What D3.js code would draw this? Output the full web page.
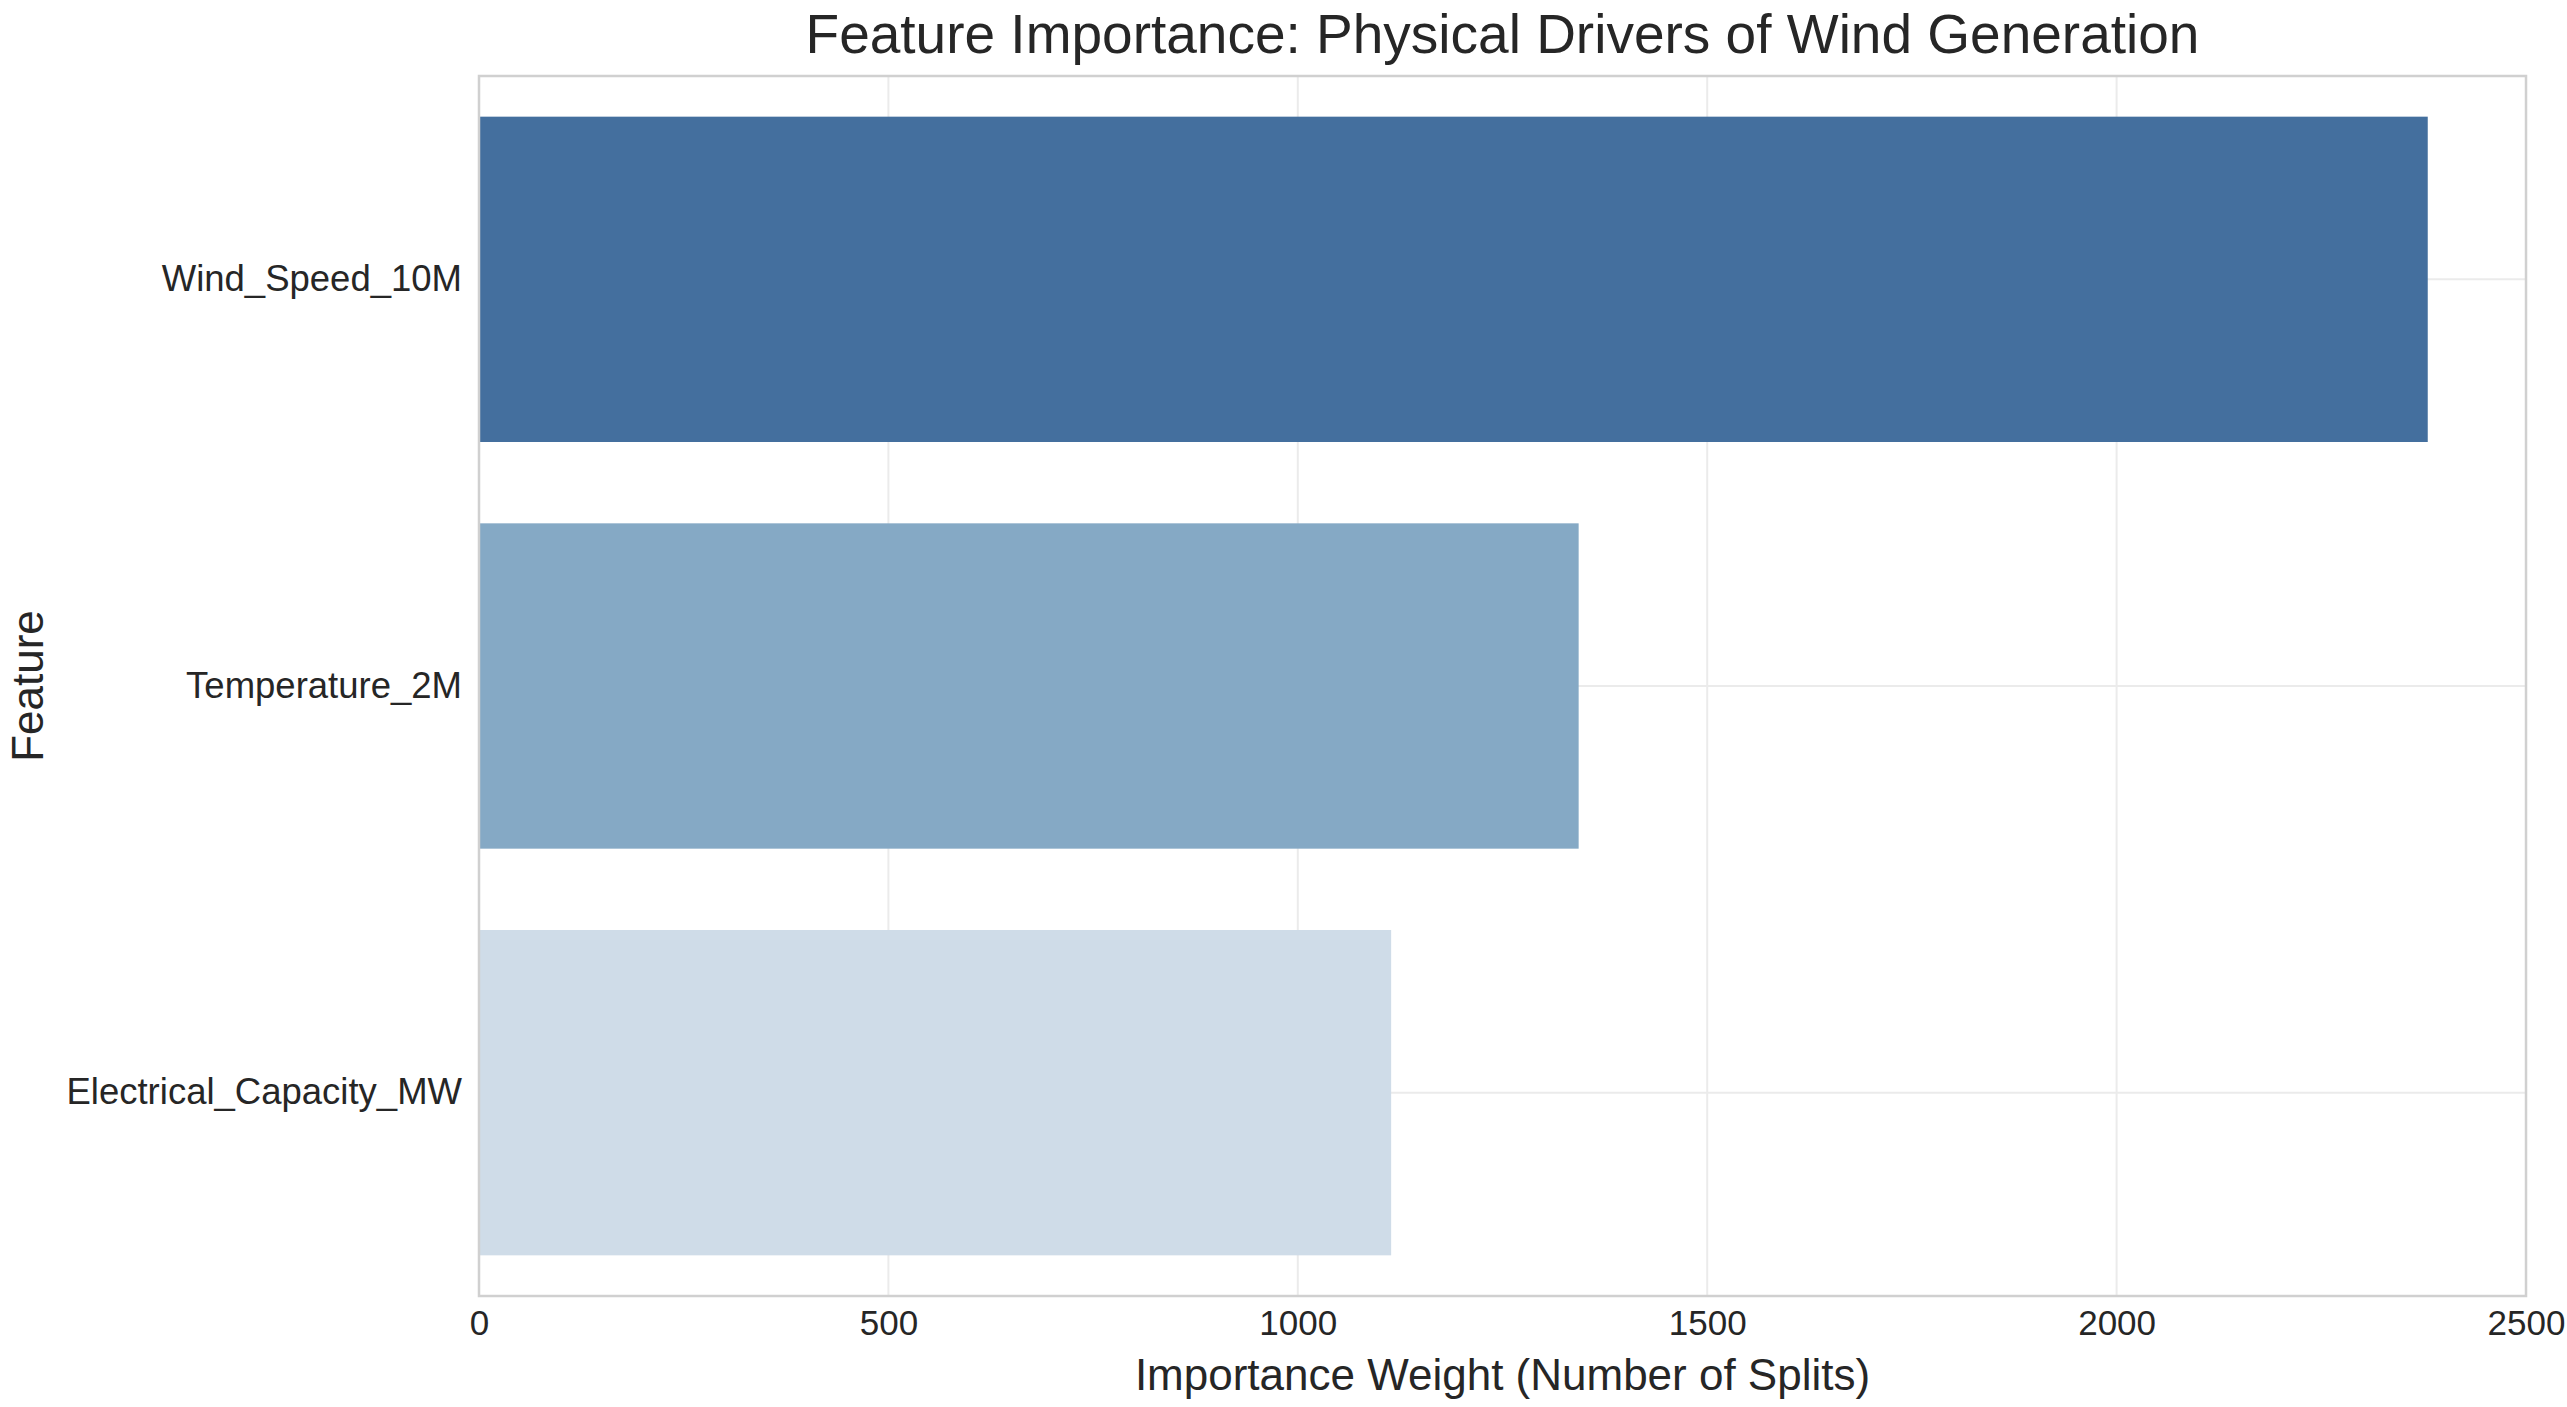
<!DOCTYPE html>
<html>
<head>
<meta charset="utf-8">
<script src="https://cdn.jsdelivr.net/npm/d3@7"></script>
<style>
  html, body { margin: 0; padding: 0; background: #ffffff; }
  svg { display: block; font-family: "Liberation Sans", Arial, sans-serif; }
</style>
</head>
<body>
<svg id="chart" width="2567" height="1407"></svg>
<script>
const features = ["Wind_Speed_10M", "Temperature_2M", "Electrical_Capacity_MW"];
const importance = [2380, 1343, 1114];
const barColors = ["#446f9e", "#85a9c5", "#cfdce8"];
const xTicks = [0, 500, 1000, 1500, 2000, 2500];
const titleText = "Feature Importance: Physical Drivers of Wind Generation";
const xLabelText = "Importance Weight (Number of Splits)";
const yLabelText = "Feature";

const W = 2567, H = 1407;
const margin = { left: 479, right: W - 2526, top: 76, bottom: H - 1296 };
const iw = W - margin.left - margin.right;
const ih = H - margin.top - margin.bottom;
const textColor = "#262626";

const svg = d3.select("#chart");
const g = svg.append("g").attr("transform", `translate(${margin.left},${margin.top})`);

const x = d3.scaleLinear().domain([0, 2500]).range([0, iw]);
const y = d3.scaleBand().domain(features).range([0, ih]).paddingInner(0.2).paddingOuter(0.1);

// grid
g.append("g").selectAll("line").data(xTicks).join("line")
  .attr("x1", d => x(d)).attr("x2", d => x(d))
  .attr("y1", 0).attr("y2", ih)
  .attr("stroke", "#ebebeb").attr("stroke-width", 2);
g.append("g").selectAll("line").data(features).join("line")
  .attr("x1", 0).attr("x2", iw)
  .attr("y1", d => y(d) + y.bandwidth() / 2).attr("y2", d => y(d) + y.bandwidth() / 2)
  .attr("stroke", "#ebebeb").attr("stroke-width", 2);

// bars
g.append("g").selectAll("rect").data(features).join("rect")
  .attr("x", x(0))
  .attr("y", d => y(d))
  .attr("width", (d, i) => x(importance[i]) - x(0))
  .attr("height", y.bandwidth())
  .attr("fill", (d, i) => barColors[i]);

// spines
g.append("rect").attr("x", 0).attr("y", 0).attr("width", iw).attr("height", ih)
  .attr("fill", "none").attr("stroke", "#d0d0d0").attr("stroke-width", 2.5);

// x axis
const xAxis = g.append("g").attr("transform", `translate(0,${ih})`)
  .call(d3.axisBottom(x).tickValues(xTicks).tickFormat(d3.format("d")).tickSize(0).tickPadding(14));
xAxis.select(".domain").remove();
xAxis.selectAll("text").attr("font-size", 35).attr("fill", textColor)
  .attr("font-family", "Liberation Sans, Arial, sans-serif");

// y axis
const yAxis = g.append("g")
  .call(d3.axisLeft(y).tickSize(0).tickPadding(17));
yAxis.select(".domain").remove();
yAxis.selectAll("text").attr("font-size", 36.5).attr("fill", textColor)
  .attr("font-family", "Liberation Sans, Arial, sans-serif");

// title
svg.append("text").attr("x", margin.left + iw / 2).attr("y", 53)
  .attr("text-anchor", "middle").attr("font-size", 55).attr("fill", textColor)
  .text(titleText);

// x label
svg.append("text").attr("x", margin.left + iw / 2).attr("y", 1390)
  .attr("text-anchor", "middle").attr("font-size", 44).attr("fill", textColor)
  .text(xLabelText);

// y label
svg.append("text").attr("transform", `translate(43,${margin.top + ih / 2}) rotate(-90)`)
  .attr("text-anchor", "middle").attr("font-size", 44).attr("fill", textColor)
  .text(yLabelText);
</script>
</body>
</html>
